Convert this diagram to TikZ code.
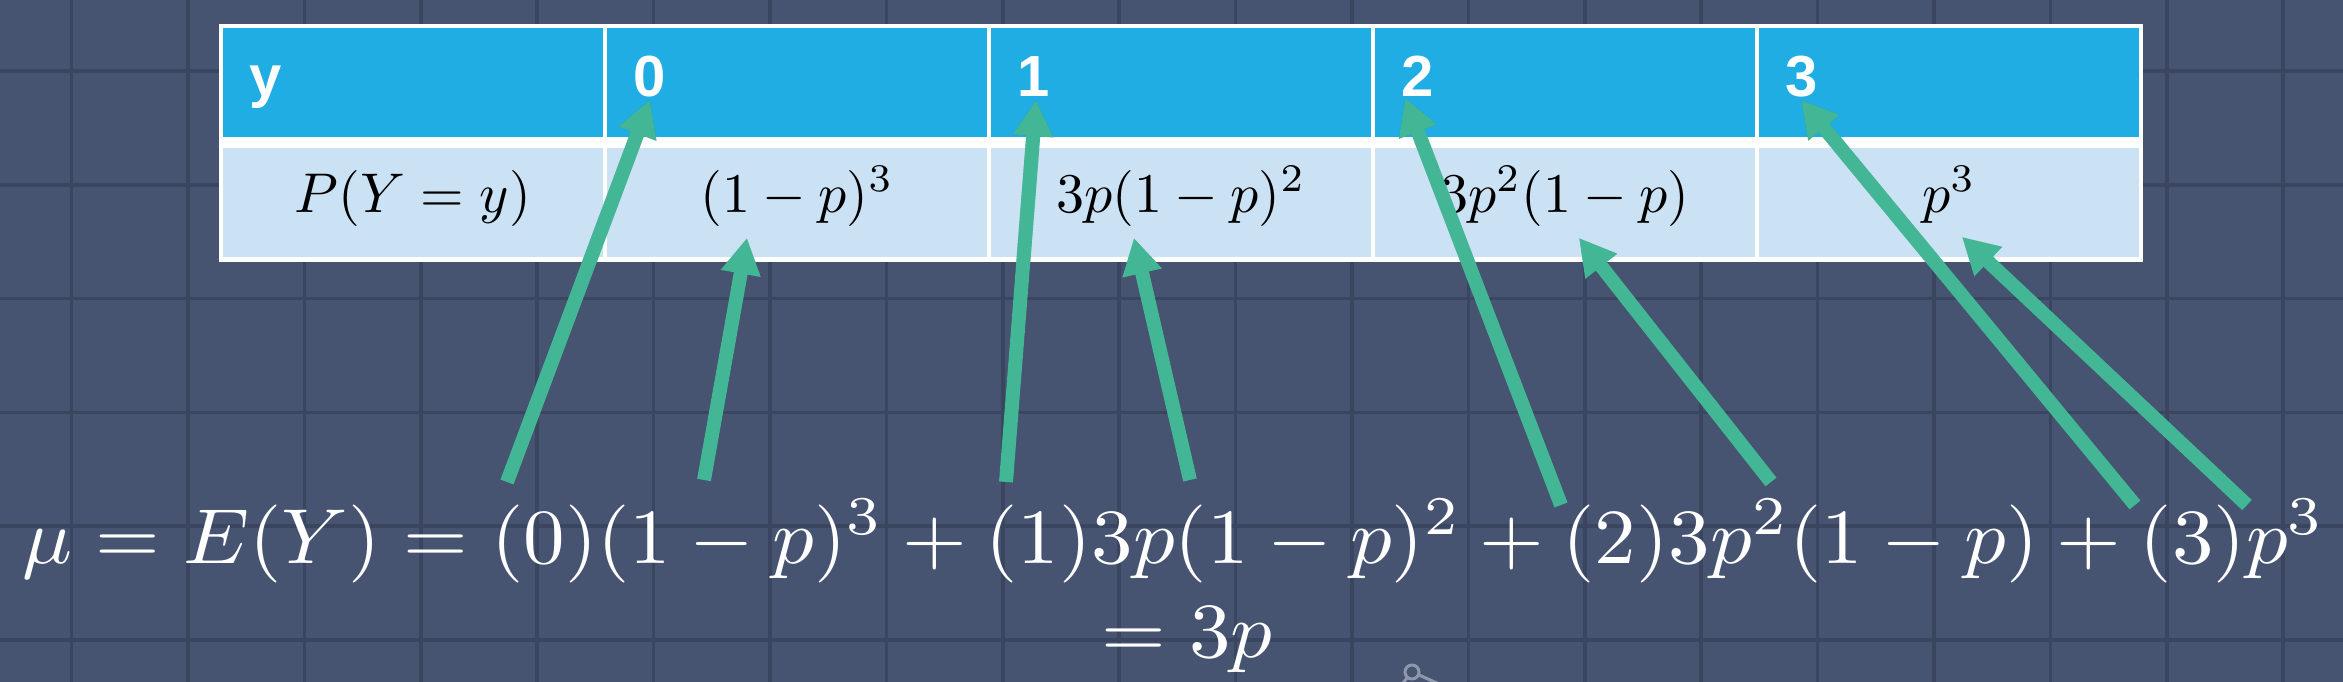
\documentclass[tikz,border=0pt]{standalone}
\usepackage{fontspec}
\newfontfamily\hdrfont{Liberation Sans}
\usepackage{graphicx}
\usetikzlibrary{arrows.meta}
\definecolor{bgcol}{HTML}{465472}
\definecolor{gridcol}{HTML}{3A4560}
\definecolor{hdrblue}{HTML}{1FADE4}
\definecolor{bodyblue}{HTML}{CBE2F5}
\definecolor{arrowgreen}{HTML}{43B795}
\definecolor{icongray}{HTML}{8F98AA}
\newcommand{\bodym}[1]{\scalebox{5.6}{$#1$}}
\newcommand{\eqm}[1]{\scalebox{8.3}[7.8]{$#1$}}
\tikzset{
  gridline/.style={draw=gridcol, line width=3.5pt},
  cellbox/.style={inner sep=0pt, outer sep=0pt, minimum width=380pt, minimum height=109pt, anchor=north west},
  hdrtxt/.style={font=\hdrfont\bfseries\fontsize{58}{60}\selectfont, text=white, inner sep=0pt, anchor=base west},
  bodytxt/.style={text=black, inner sep=0pt, anchor=base},
  eqtxt/.style={text=white, inner sep=0pt, anchor=base},
  arrowline/.style={draw=arrowgreen, line width=14pt, -{Triangle[length=36pt,width=38pt]}},
  arrowshadow/.style={draw=black, opacity=0.18, line width=14pt, -{Triangle[length=36pt,width=38pt]}},
}
\begin{document}
\begin{tikzpicture}[x=1pt,y=-1pt]
\useasboundingbox (0,0) rectangle (2343,682);
\fill[bgcol] (0,0) rectangle (2343,682);
% grid
\foreach \i in {0,...,19} \draw[gridline] ({71.6+116.4*\i},0) -- ++(0,682);
\foreach \j in {0,...,5} \draw[gridline] (0,{71+113.8*\j}) -- ++(2343,0);
% table
\fill[white] (219,24) rectangle (2143,262);
\foreach \i in {0,...,4} {
  \node[cellbox, fill=hdrblue] (h\i) at ({221+384*\i+2},28) {};
  \node[cellbox, fill=bodyblue] (b\i) at ({221+384*\i+2},148) {};
}
\node[hdrtxt] (t0) at (249,97) {y};
\node[hdrtxt] (t1) at (633,97) {0};
\node[hdrtxt] (t2) at (1017,97) {1};
\node[hdrtxt] (t3) at (1401,97) {2};
\node[hdrtxt] (t4) at (1785,97) {3};
\node[bodytxt] (p0) at (413,212) {\bodym{P(Y=y)}};
\node[bodytxt] (p1) at (797,212) {\bodym{(1-p)^3}};
\node[bodytxt] (p2) at (1181,212) {\bodym{3p(1-p)^2}};
\node[bodytxt] (p3) at (1565,212) {\bodym{3p^2(1-p)}};
\node[bodytxt] (p4) at (1949,212) {\bodym{p^3}};
% arrow end points
\coordinate (aS) at (507,482);  \coordinate (aE) at (650,100);
\coordinate (bS) at (704,480);  \coordinate (bE) at (747,238);
\coordinate (cS) at (1006,482); \coordinate (cE) at (1036,100);
\coordinate (dS) at (1190,480); \coordinate (dE) at (1134,238);
\coordinate (eS) at (1561,505); \coordinate (eE) at (1405,98);
\coordinate (fS) at (1771,482); \coordinate (fE) at (1579,238);
\coordinate (gS) at (2135,505); \coordinate (gE) at (1801,100);
\coordinate (hS) at (2247,505); \coordinate (hE) at (1962,237);
\foreach \a in {a,b,c,d,e,f,g,h} {
  \draw[arrowshadow, shift={(2,3)}] (\a S) -- (\a E);
}
\foreach \a in {a,b,c,d,e,f,g,h} {
  \draw[arrowline] (\a S) -- (\a E);
}
% equation
\node[eqtxt] (eq1) at (1174,563) {\eqm{\mu=E(Y)=(0)(1-p)^3+(1)3p(1-p)^2+(2)3p^2(1-p)+(3)p^3}};
\node[eqtxt] (eq2) at (1187,657) {\eqm{=3p}};
% small icon at bottom
\draw[icongray, line width=3pt] (1412,672) circle (7);
\draw[icongray, line width=3pt] (1419,675) -- (1446,687);
\draw[icongray, line width=3pt] (1407,678) -- (1399,688);
\end{tikzpicture}
\end{document}
